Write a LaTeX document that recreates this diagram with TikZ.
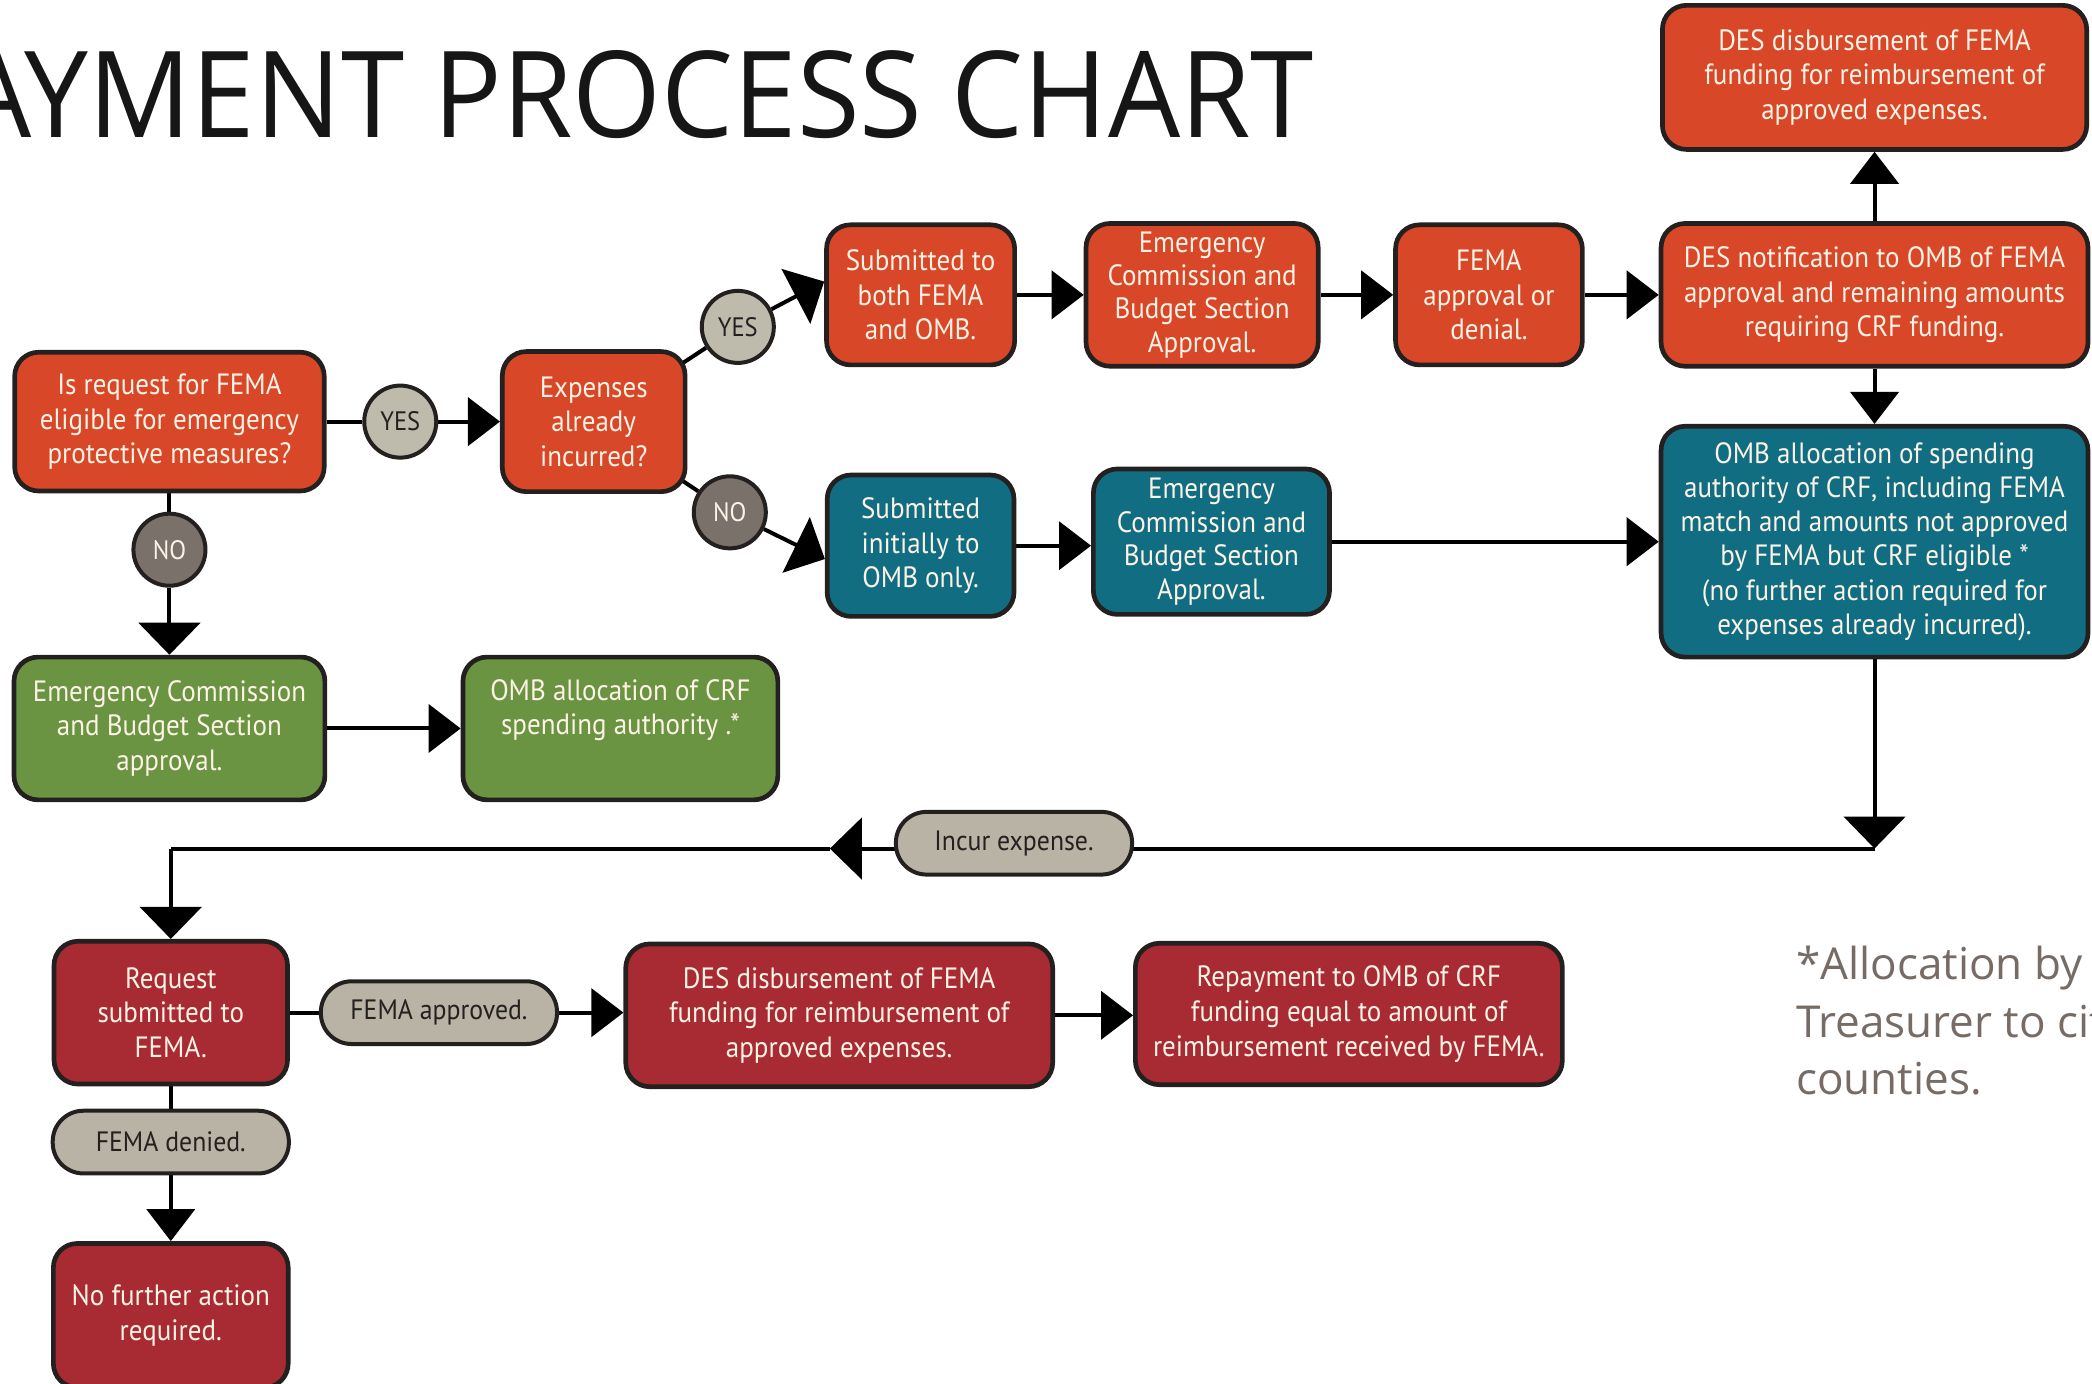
\documentclass[tikz,border=0pt]{standalone}
\usepackage{fontspec}
\usetikzlibrary{arrows.meta,backgrounds}
\newfontfamily\boxfont[FakeStretch=0.92]{PT Sans}
\newfontfamily\titlefont[FakeStretch=0.95]{Open Sans}
\newfontfamily\notefont{Open Sans}
\definecolor{orng}{RGB}{216,71,39}
\definecolor{tealc}{RGB}{17,110,130}
\definecolor{grnc}{RGB}{106,148,66}
\definecolor{crim}{RGB}{168,43,52}
\definecolor{pillc}{RGB}{184,179,164}
\definecolor{yesc}{RGB}{190,186,172}
\definecolor{noc}{RGB}{122,113,107}
\definecolor{bordc}{RGB}{36,32,32}
\definecolor{txtc}{RGB}{252,242,230}
\definecolor{notec}{RGB}{118,108,101}
\definecolor{titlec}{RGB}{22,22,22}
\tikzset{
  box/.style={rounded corners=18pt, draw=bordc, line width=3.5pt, text=txtc, align=center,
    inner sep=2pt, font={\boxfont\fontsize{22pt}{26pt}\selectfont}},
  obox/.style={box, fill=orng},
  tbox/.style={box, fill=tealc},
  gbox/.style={box, fill=grnc},
  cbox/.style={box, fill=crim},
  pill/.style={rounded corners=23pt, draw=bordc, line width=3pt, fill=pillc, text=bordc,
    minimum width=177pt, minimum height=47pt, inner sep=2pt,
    font={\boxfont\fontsize{21pt}{25pt}\selectfont}},
  yesdot/.style={circle, draw=bordc, line width=3pt, fill=yesc, text=bordc, minimum size=54pt,
    inner sep=0pt, font={\boxfont\fontsize{20pt}{24pt}\selectfont}},
  nodot/.style={yesdot, fill=noc, text=txtc},
  conn/.style={line width=3pt, draw=black},
  arr/.style={-{Triangle[length=24pt,width=36pt]}},
  bigarr/.style={-{Triangle[length=24pt,width=46pt]}}
}
\begin{document}
\begin{tikzpicture}[x=1pt,y=-1pt]
\useasboundingbox (0,0) rectangle (1568,1037);
\clip (0,0) rectangle (1568,1037);

\node[anchor=base east, inner sep=0pt, text=titlec, font={\titlefont\fontsize{90pt}{90pt}\selectfont}] (title) at (985,103) {PAYMENT PROCESS CHART};

\node[obox, minimum width=232pt, minimum height=104pt] (q1) at (127,316) {Is request for FEMA\\eligible for emergency\\protective measures?};
\node[yesdot] (yes1) at (300,316) {YES};
\node[obox, minimum width=137pt, minimum height=105pt] (exp) at (445,316) {Expenses\\already\\incurred?};
\node[yesdot] (yes2) at (553,245) {YES};
\node[nodot] (no2) at (547,384) {NO};
\node[obox, minimum width=141pt, minimum height=105pt] (sub1) at (690,221) {Submitted to\\both FEMA\\and OMB.};
\node[obox, minimum width=174pt, minimum height=107pt, font={\boxfont\fontsize{22pt}{25pt}\selectfont}] (ecb1) at (901,221) {Emergency\\Commission and\\Budget Section\\Approval.};
\node[obox, minimum width=140pt, minimum height=105pt] (fema) at (1116,221) {FEMA\\approval or\\denial.};
\node[obox, minimum width=320pt, minimum height=107pt] (desn) at (1405,221) {DES notification to OMB of FEMA\\approval and remaining amounts\\requiring CRF funding.};
\node[obox, minimum width=318pt, minimum height=108pt] (desd) at (1405,58) {DES disbursement of FEMA\\funding for reimbursement of\\approved expenses.};
\node[tbox, minimum width=320pt, minimum height=173pt, font={\boxfont\fontsize{22pt}{25.6pt}\selectfont}] (omb) at (1405,406) {OMB allocation of spending\\authority of CRF, including FEMA\\match and amounts not approved\\by FEMA but CRF eligible *\\(no further action required for\\expenses already incurred).};
\node[tbox, minimum width=140pt, minimum height=106pt] (teal1) at (690,409) {Submitted\\initially to\\OMB only.};
\node[tbox, minimum width=177pt, minimum height=109pt, font={\boxfont\fontsize{22pt}{25pt}\selectfont}] (teal2) at (908,406) {Emergency\\Commission and\\Budget Section\\Approval.};
\node[nodot] (no1) at (127,412) {NO};
\node[gbox, minimum width=233pt, minimum height=107pt] (grn1) at (127,546) {Emergency Commission\\and Budget Section\\approval.};
\node[gbox, minimum width=236pt, minimum height=107pt] (grn2) at (465,546) {OMB allocation of CRF\\spending authority .*\\[6pt]};
\node[pill] (incur) at (760,632) {Incur expense.};
\node[cbox, minimum width=175pt, minimum height=107pt] (req) at (128,759) {Request\\submitted to\\FEMA.};
\node[pill] (fappr) at (329,759) {FEMA approved.};
\node[cbox, minimum width=320pt, minimum height=107pt] (desd2) at (629,761) {DES disbursement of FEMA\\funding for reimbursement of\\approved expenses.};
\node[cbox, minimum width=320pt, minimum height=106pt] (repay) at (1011,760) {Repayment to OMB of CRF\\funding equal to amount of\\reimbursement received by FEMA.};
\node[pill] (fden) at (128,856) {FEMA denied.};
\node[cbox, minimum width=176pt, minimum height=108pt] (nofa) at (128,986) {No further action\\required.};

\node[anchor=north west, inner sep=0pt, align=left, text=notec, font={\notefont\fontsize{33pt}{43pt}\selectfont}] (note) at (1346,709) {*Allocation by\\Treasurer to cities and\\counties.};

\coordinate (c1) at (1405,636);
\coordinate (ml) at (622,636);
\coordinate (c2) at (128,636);

\begin{pgfonlayer}{background}
\draw[conn] (q1) -- (yes1);
\draw[conn,arr] (yes1) -- (exp);
\draw[conn] (exp.center) -- (yes2);
\draw[conn,bigarr] (yes2) -- ([yshift=10pt]sub1.west);
\draw[conn] (exp.center) -- (no2);
\draw[conn,bigarr] (no2) -- ([yshift=-10pt]teal1.west);
\draw[conn,arr] (sub1) -- (ecb1);
\draw[conn,arr] (ecb1) -- (fema);
\draw[conn,arr] (fema) -- (desn);
\draw[conn,arr] (desn) -- (desd);
\draw[conn,arr] (desn) -- (omb);
\draw[conn,arr] (teal1.east) -- (teal2.west |- teal1.east);
\draw[conn,arr] (teal2) -- (omb);
\draw[conn] (q1) -- (no1);
\draw[conn,bigarr] (no1) -- (grn1);
\draw[conn,arr] (grn1) -- (grn2);
\draw[conn,bigarr] (omb) -- (c1);
\draw[conn,bigarr] (c1) -- (ml);
\draw[conn] (ml) -- (c2);
\draw[conn,bigarr] (c2) -- (req);
\draw[conn] (req) -- (fappr);
\draw[conn,arr] (fappr.east) -- (desd2.west |- fappr.east);
\draw[conn,arr] (desd2.east) -- (repay.west |- desd2.east);
\draw[conn] (req) -- (fden);
\draw[conn,arr] (fden) -- (nofa);
\end{pgfonlayer}
\end{tikzpicture}
\end{document}
